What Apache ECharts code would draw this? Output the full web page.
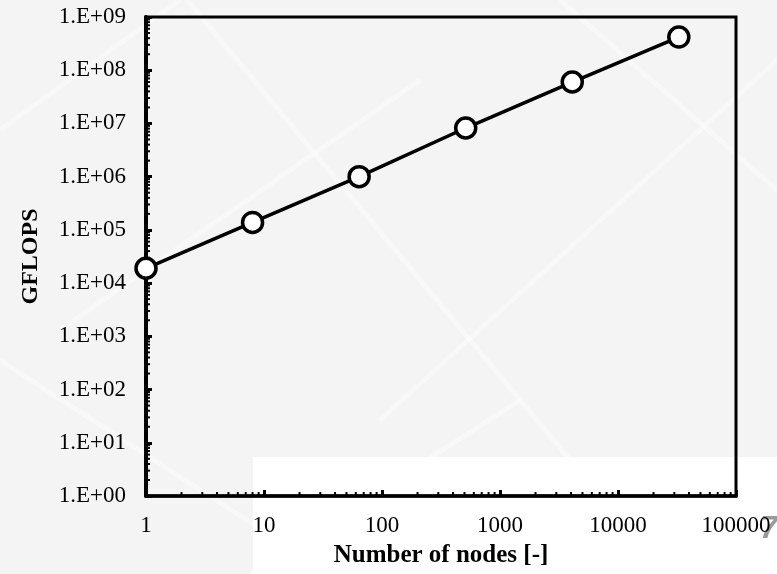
<!DOCTYPE html>
<html>
<head>
<meta charset="utf-8">
<script src="https://cdn.jsdelivr.net/npm/echarts@6/dist/echarts.min.js"></script>
<style>
  html, body { margin: 0; padding: 0; background: #f4f4f4; }
  #chart { width: 777px; height: 574px; }
</style>
</head>
<body>
<div id="chart"></div>
<script>
// nodes vs sustained GFLOPS
var nodes = [1, 8, 64, 512, 4096, 32768]
var gflops = [1.9e4, 1.38e5, 1.0e6, 8.2e6, 6.0e7, 4.2e8]

var xDecades = [1, 10, 100, 1000, 10000]
var yDecades = [1, 10, 100, 1e3, 1e4, 1e5, 1e6, 1e7, 1e8]
var minorSteps = [2, 3, 4, 5, 6, 7, 8, 9]

// minor tick positions (axis decoration): [x, y, dir]
var minorTicks = []
xDecades.forEach(function (d) {
    minorSteps.forEach(function (m) { minorTicks.push([d * m, 1, 0]) })
})
yDecades.forEach(function (d) {
    minorSteps.forEach(function (m) { minorTicks.push([1, d * m, 1]) })
})

var serif = '"Liberation Serif", "Times New Roman", serif'

function yLabel(v) {
    var p = Math.round(Math.log10(v))
    return '1.E+' + (p < 10 ? '0' + p : p)
}

function xLabel(v) {
    return String(Math.round(v))
}

// faint slide-background diagonals
var bgLines = [
    [[187, 0], [620, 520]],
    [[420, 80], [60, 330]],
    [[0, 130], [180, 0]],
    [[0, 360], [330, 574]],
    [[777, 60], [380, 420]],
    [[560, 0], [777, 190]],
    [[250, 574], [520, 400]]
]

var chart = echarts.init(document.getElementById('chart'))
chart.setOption({
    backgroundColor: '#f4f4f4',
    animation: false,
    graphic: bgLines.map(function (l) {
        return {
            type: 'line', silent: true, z: -10,
            shape: { x1: l[0][0], y1: l[0][1], x2: l[1][0], y2: l[1][1] },
            style: { stroke: '#ffffff', lineWidth: 5, opacity: 0.4 }
        }
    }).concat([{
        type: 'rect', silent: true, z: -5,
        shape: { x: 253, y: 457, width: 524, height: 117 },
        style: { fill: '#ffffff' }
    }, {
        type: 'text', silent: true, z: -1,
        left: 760, top: 513,
        style: { text: '7', fill: '#9a9a9a', font: 'italic bold 32px "Liberation Sans", sans-serif' }
    }]),
    grid: {
        left: 146, right: 41, top: 17, bottom: 78,
        show: true, borderColor: '#000', borderWidth: 3,
        backgroundColor: 'transparent'
    },
    xAxis: {
        type: 'log', logBase: 10, min: 1, max: 100000,
        name: 'Number of nodes [-]',
        nameLocation: 'middle', nameGap: 47,
        nameTextStyle: { fontFamily: serif, fontSize: 25, fontWeight: 'bold', color: '#000' },
        axisLine: { lineStyle: { color: '#000', width: 3.5 } },
        axisTick: { inside: true, length: 6, lineStyle: { color: '#000', width: 3 } },
        axisLabel: { fontFamily: serif, fontSize: 23, color: '#000', margin: 18, formatter: xLabel },
        splitLine: { show: false }
    },
    yAxis: {
        type: 'log', logBase: 10, min: 1, max: 1e9, splitNumber: 9,
        name: 'GFLOPS',
        nameLocation: 'middle', nameGap: 103, nameRotate: 90,
        nameTextStyle: { fontFamily: serif, fontSize: 24, fontWeight: 'bold', color: '#000' },
        axisLine: { lineStyle: { color: '#000', width: 4 } },
        axisTick: { inside: true, length: 6, lineStyle: { color: '#000', width: 3 } },
        axisLabel: { fontFamily: serif, fontSize: 23, color: '#000', margin: 20, formatter: yLabel },
        splitLine: { show: false }
    },
    series: [{
        type: 'custom',
        silent: true,
        clip: false,
        z: 1,
        data: minorTicks,
        renderItem: function (params, api) {
            var p = api.coord([api.value(0), api.value(1)])
            var vertical = api.value(2) === 0
            return {
                type: 'line',
                shape: vertical
                    ? { x1: p[0], y1: p[1], x2: p[0], y2: p[1] - 4 }
                    : { x1: p[0], y1: p[1], x2: p[0] + 4, y2: p[1] },
                style: { stroke: '#000', lineWidth: 2 }
            }
        }
    }, {
        type: 'line',
        data: nodes.map(function (n, i) { return [n, gflops[i]] }),
        symbol: 'circle',
        symbolSize: 20,
        clip: false,
        z: 5,
        lineStyle: { color: '#000', width: 3.5 },
        itemStyle: { color: '#fff', borderColor: '#000', borderWidth: 3.5 }
    }]
})
</script>
</body>
</html>
